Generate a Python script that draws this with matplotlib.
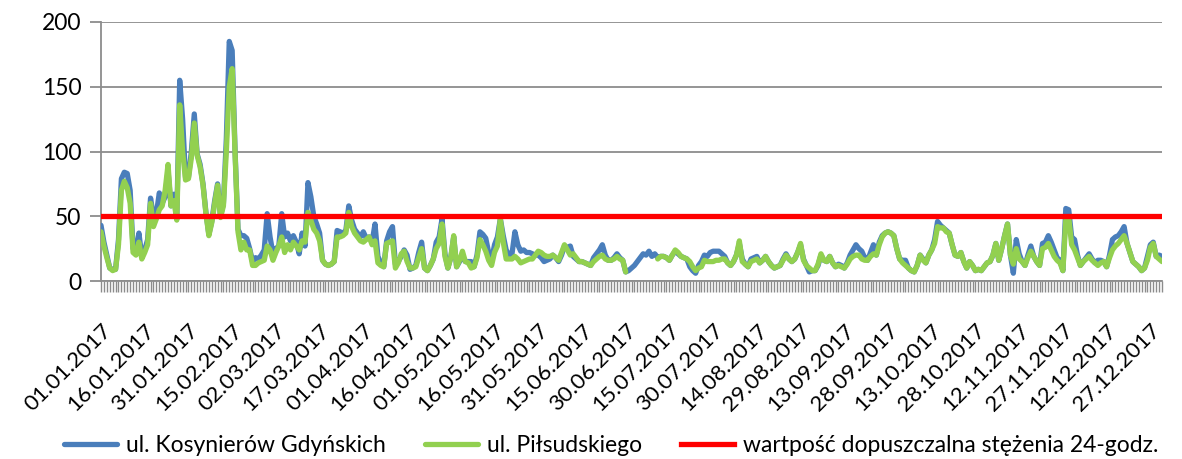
import numpy as np
import matplotlib
matplotlib.use("Agg")
import matplotlib.pyplot as plt
from matplotlib.ticker import MultipleLocator, FixedLocator

nan = np.nan

# ---- data (daily values, 01.01.2017 - 31.12.2017) ----
kosynierow = [
    # days 0-51
    43, 30, 20, 10, 9, 9, 32, 79, 84, 83, 70, 25, 24, 37, 19, 24, 32, 64, 50, 52,
    68, 60, 65, 85, 58, 67, 48, 155, 125, 80, 80, 100, 129, 98, 90, 75, 53, 36, 46, 62,
    75, 50, 60, 110, 185, 178, 100, 40, 35, 35, 33, 25,
    # days 52-104
    15, 18, 17, 20, 24, 52, 34, 21, 25, 27, 52, 34, 37, 31, 35, 30, 21, 37, 27, 76,
    65, 50, 44, 37, 16, 13, 12, 13, 15, 39, 38, 37, 39, 58, 47, 40, 37, 34, 38, 33,
    34, 30, 44, 19, 14, 11, 31, 38, 42, 13, 15, 19, 24,
    # days 105-155
    20, 9, 10, 12, 22, 30, 10, 8, 12, 17, 30, 34, 48, 21, 10, 18, 34, 11, 15, 19,
    15, 15, 15, 11, 20, 38, 36, 33, 22, 16, 28, 34, 48, 35, 24, 20, 21, 38, 28, 23,
    24, 22, 22, 21, 20, 20, 18, 15, 16, 17, 20,
    # days 156-207
    18, 15, 20, 27, 26, 27, 19, 17, 15, 15, 14, 13, 12, 18, 21, 24, 28, 20, 16, 16,
    18, 21, 18, 16, 7, 8, 10, 12, 15, 18, 21, 20, 23, 19, 21, 18, 19, 19, 18, 16,
    20, 23, 21, 19, 18, 17, 11, 8, 6, 12, 15, 20,
    # days 208-259
    19, 22, 23, 23, 23, 21, 19, 14, 12, 15, 20, 29, 17, 13, 11, 17, 18, 19, 14, 16,
    19, 15, 12, 10, 11, 12, 17, 21, 17, 15, 17, 22, 28, 17, 12, 7, 8, 8, 12, 20,
    16, 15, 19, 14, 11, 13, 12, 10, 14, 20, 24, 28,
    # days 260-311
    25, 23, 18, 16, 22, 28, 20, 30, 35, 37, 38, 37, 35, 25, 17, 16, 16, 10, 8, 7,
    12, 20, 17, 14, 20, 24, 32, 46, 43, 41, 39, 37, 28, 20, 19, 22, 15, 10, 15, 12,
    8, 9, 8, 11, 14, 15, 20, 29, 16, 25, 35, 44,
    # days 312-364
    20, 6, 32, 21, 15, 12, 20, 27, 19, 15, 12, 29, 30, 35, 30, 24, 18, 16, 8, 56,
    55, 34, 32, 20, 12, 15, 18, 21, 17, 14, 16, 16, 15, 11, 20, 32, 34, 35, 38, 42,
    29, 22, 15, 13, 11, 8, 10, 19, 28, 30, 19, 20, 19,
]

pilsudskiego = [
    # days 0-51
    38, 27, 18, 10, 8, 9, 28, 70, 77, 72, 60, 22, 20, 30, 17, 22, 28, 60, 42, 48,
    55, 58, 70, 90, 58, 62, 47, 136, 100, 78, 79, 95, 122, 97, 88, 74, 52, 35, 45, 60,
    74, 49, 58, 100, 150, 164, 98, 38, 24, 30, 24, 24,
    # days 52-104
    12, 12, 14, 15, 16, 27, 24, 16, 22, 27, 34, 22, 28, 24, 30, 27, 24, 31, 30, 53,
    47, 40, 37, 31, 16, 13, 12, 13, 15, 34, 34, 35, 37, 53, 42, 37, 34, 31, 30, 32,
    34, 28, 31, 14, 12, 11, 29, 30, 31, 10, 14, 21, 23,
    # days 105-155
    15, 10, 10, 11, 18, 25, 10, 8, 12, 17, 25, 29, 44, 19, 10, 18, 35, 11, 16, 23,
    15, 14, 10, 11, 18, 32, 28, 23, 16, 12, 22, 27, 48, 30, 17, 17, 17, 19, 17, 14,
    15, 16, 17, 17, 20, 23, 22, 20, 19, 19, 20,
    # days 156-207
    18, 16, 22, 28, 24, 20, 21, 18, 15, 15, 14, 13, 12, 15, 17, 19, 20, 17, 16, 16,
    17, 19, 17, 16, 7, nan, nan, nan, nan, nan, nan, nan, nan, nan, nan, 17, 19, 19, 18, 16,
    20, 24, 22, 19, 18, 17, 15, 11, 8, 10, 11, 16,
    # days 208-259
    15, 15, 15, 16, 16, 17, 17, 14, 12, 15, 20, 31, 15, 13, 11, 15, 16, 17, 14, 16,
    19, 15, 12, 10, 11, 12, 16, 20, 17, 15, 17, 22, 29, 16, 12, 10, 8, 8, 13, 21,
    16, 15, 19, 14, 11, 12, 11, 10, 13, 17, 19, 20,
    # days 260-311
    20, 17, 16, 16, 19, 21, 20, 28, 34, 37, 38, 37, 35, 25, 17, 14, 12, 10, 8, 7,
    12, 20, 16, 14, 20, 24, 29, 42, 41, 41, 38, 37, 28, 20, 19, 22, 15, 10, 15, 12,
    8, 9, 8, 11, 14, 15, 20, 29, 16, 25, 35, 44,
    # days 312-364
    20, 13, 25, 17, 15, 12, 18, 23, 19, 15, 12, 25, 26, 29, 24, 19, 16, 14, 8, 47,
    49, 28, 24, 18, 12, 15, 17, 19, 16, 14, 12, 14, 15, 11, 18, 24, 27, 29, 32, 35,
    29, 22, 15, 13, 11, 8, 10, 16, 26, 29, 19, 17, 15,
]

limit_value = 50

tick_labels = ["01.01.2017", "16.01.2017", "31.01.2017", "15.02.2017", "02.03.2017",
               "17.03.2017", "01.04.2017", "16.04.2017", "01.05.2017", "16.05.2017",
               "31.05.2017", "15.06.2017", "30.06.2017", "15.07.2017", "30.07.2017",
               "14.08.2017", "29.08.2017", "13.09.2017", "28.09.2017", "13.10.2017",
               "28.10.2017", "12.11.2017", "27.11.2017", "12.12.2017", "27.12.2017"]

series_names = ["ul. Kosynierów Gdyńskich", "ul. Piłsudskiego",
                "wartpość dopuszczalna stężenia 24-godz."]

# ---- plot ----
plt.rcParams['font.family'] = ['Lato', 'DejaVu Sans']
fig = plt.figure(figsize=(11.82, 4.59), dpi=100)
ax = fig.add_axes([101/1182, 1-281/459, (1162-101)/1182, (281-22)/459])

n = len(kosynierow)
days = np.arange(n)
grid_c = "#8c8c8c"

ax.plot(days, kosynierow, color="#4a7ebb", lw=3.8, solid_joinstyle='round',
        solid_capstyle='round', label=series_names[0], zorder=3)
ax.plot(days, pilsudskiego, color="#92d050", lw=3.8, solid_joinstyle='round',
        solid_capstyle='round', label=series_names[1], zorder=4)
ax.plot(days, [limit_value] * n, color="#ff0000", lw=3.8, label=series_names[2], zorder=5)

ax.set_xlim(0, n - 1)
ax.set_ylim(0, 200)
ax.yaxis.set_major_locator(MultipleLocator(50))
ax.grid(axis='y', color=grid_c, lw=1.3)
ax.set_axisbelow(True)

ax.xaxis.set_major_locator(FixedLocator(np.arange(0, n, 15)))
ax.xaxis.set_minor_locator(MultipleLocator(1))
ax.set_xticklabels(tick_labels, rotation=45, ha='right', va='top',
                   rotation_mode='anchor', fontsize=16)
ax.tick_params(axis='x', which='both', length=8, width=1, color=grid_c,
               direction='out')
ax.tick_params(axis='x', which='major', pad=20)
ax.tick_params(axis='y', length=8, width=1.3, color=grid_c, labelsize=16.5, pad=6)

for s in ['top', 'right']:
    ax.spines[s].set_visible(False)
for s in ['left', 'bottom']:
    ax.spines[s].set_color(grid_c)
    ax.spines[s].set_linewidth(1.3)

fig.legend(loc='center', bbox_to_anchor=(0.517, 1 - 446/459), ncol=3,
           frameon=False, fontsize=16.5, handlelength=2.3, handletextpad=0.4,
           columnspacing=1.7, borderpad=0.2)

fig.savefig("out.png", dpi=100)
